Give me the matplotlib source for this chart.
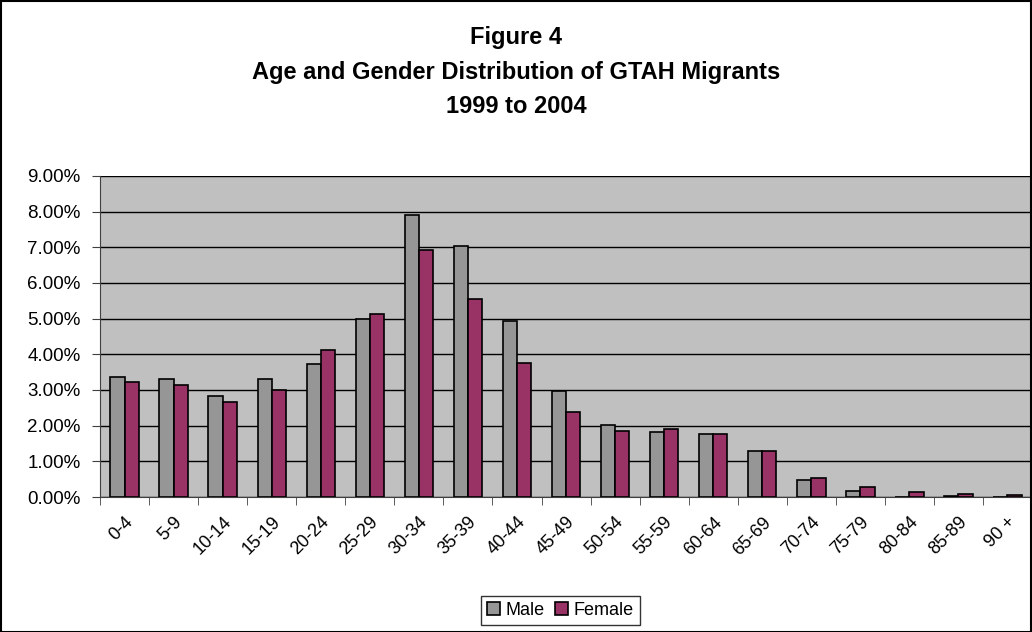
import matplotlib.pyplot as plt
import numpy as np
from matplotlib.patches import Rectangle
from matplotlib.ticker import FixedLocator, PercentFormatter

plt.rcParams['font.family'] = ['Liberation Sans', 'DejaVu Sans']

age_groups = ["0-4", "5-9", "10-14", "15-19", "20-24", "25-29", "30-34", "35-39",
              "40-44", "45-49", "50-54", "55-59", "60-64", "65-69", "70-74",
              "75-79", "80-84", "85-89", "90 +"]
male = [3.37, 3.32, 2.82, 3.32, 3.72, 5.00, 7.90, 7.05, 4.92, 2.97,
        2.03, 1.82, 1.77, 1.28, 0.48, 0.18, 0.00, 0.03, 0.00]
female = [3.23, 3.14, 2.65, 3.01, 4.12, 5.13, 6.92, 5.55, 3.77, 2.38,
          1.86, 1.90, 1.77, 1.28, 0.53, 0.27, 0.14, 0.08, 0.05]

fig = plt.figure(figsize=(10.32, 6.32), dpi=100)
ax = fig.add_axes([0.097, 0.2136, 0.903, 0.508])

x = np.arange(len(age_groups))
w = 0.29
ax.bar(x - w / 2, male, w, color="#969696", edgecolor="black", linewidth=1.2, label="Male", zorder=3)
ax.bar(x + w / 2, female, w, color="#993366", edgecolor="black", linewidth=1.2, label="Female", zorder=3)

ax.set_facecolor("#C0C0C0")
ax.set_xlim(-0.5, len(age_groups) - 0.5)
ax.set_ylim(0, 9)
ax.set_yticks(np.arange(0, 10, 1))
ax.yaxis.set_major_formatter(PercentFormatter(decimals=2))
ax.yaxis.grid(True, color="black", linewidth=1)
ax.set_axisbelow(True)

ax.set_xticks(x)
ax.set_xticklabels(age_groups, rotation=45, ha="right", rotation_mode="anchor")
ax.tick_params(axis="x", which="major", length=0, pad=12, labelsize=13)
ax.xaxis.set_minor_locator(FixedLocator(np.arange(-0.5, len(age_groups), 1)))
ax.tick_params(axis="x", which="minor", length=6, color="#404040")
ax.tick_params(axis="y", length=6, color="#404040", labelsize=13.5, pad=8)

for side in ["top", "right"]:
    ax.spines[side].set_visible(False)
for side in ["left", "bottom"]:
    ax.spines[side].set_color("#404040")

fig.text(0.5, 0.94, "Figure 4", ha="center", va="center", fontsize=17, fontweight="bold")
fig.text(0.5, 0.886, "Age and Gender Distribution of GTAH Migrants", ha="center", va="center",
         fontsize=17, fontweight="bold")
fig.text(0.5, 0.832, "1999 to 2004", ha="center", va="center", fontsize=17, fontweight="bold")

leg = fig.legend(loc="center", bbox_to_anchor=(0.543, 0.034), ncol=2, fontsize=13,
                 frameon=True, fancybox=False, edgecolor="black", handlelength=0.7,
                 handleheight=0.7, handletextpad=0.3, columnspacing=0.6, borderpad=0.35)
leg.get_frame().set_linewidth(1)

fig.patches.append(Rectangle((0.001, 0.0), 0.998, 0.998, transform=fig.transFigure,
                             fill=False, edgecolor="black", linewidth=1.5))

fig.savefig("out.png", dpi=100)
